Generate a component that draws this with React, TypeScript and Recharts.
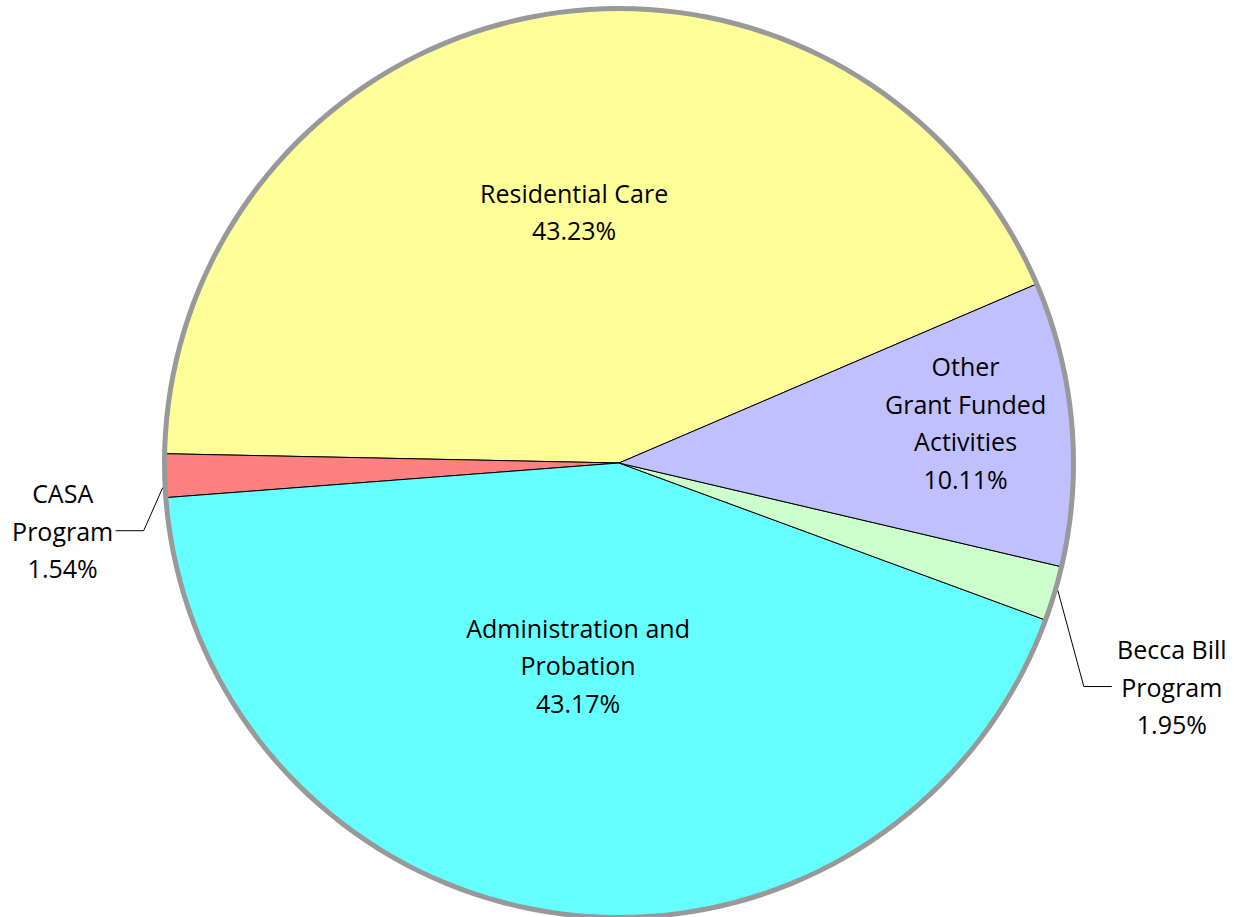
import { PieChart, Pie, Cell } from 'recharts'

const NAMES = [
  'Residential Care',
  'CASA Program',
  'Administration and Probation',
  'Becca Bill Program',
  'Other Grant Funded Activities',
]
const VALUES = [43.23, 1.54, 43.17, 1.95, 10.11]
const LABEL_LINES: string[][] = [
  ['Residential Care'],
  ['CASA', 'Program'],
  ['Administration and', 'Probation'],
  ['Becca Bill', 'Program'],
  ['Other', 'Grant Funded', 'Activities'],
]
const COLORS = ['#FFFF99', '#FF8080', '#66FFFF', '#CCFFCC', '#C0C0FF']

const data = NAMES.map((name, i) => ({ name, value: VALUES[i], lines: LABEL_LINES[i] }))
const ring = [{ name: 'ring', value: 1 }]

// label placement: inside = radius fraction + angle nudge, outside = leader offsets
const INSIDE: Record<string, { r: number; da: number }> = {
  'Residential Care': { r: 0.562, da: -0.9 },
  'Administration and Probation': { r: 0.454, da: -3.5 },
  'Other Grant Funded Activities': { r: 0.767, da: 1.7 },
}
const OUTSIDE: Record<string, { sa: number; ex: number; ey: number; hx: number; tx: number }> = {
  'CASA Program': { sa: 1.5, ex: -19, ey: 43, hx: -28, tx: -53 },
  'Becca Bill Program': { sa: 0.5, ex: 26, ey: 96, hx: 28, tx: 60 },
}

const RAD = Math.PI / 180
const FONT = '"Open Sans", Lato, sans-serif'
const FS = 25
const LH = 37.5

function polar(cx: number, cy: number, r: number, a: number) {
  return { x: cx + r * Math.cos(-a * RAD), y: cy + r * Math.sin(-a * RAD) }
}

function TextBlock({ x, y, lines }: { x: number; y: number; lines: string[] }) {
  const n = lines.length
  return (
    <text x={x} y={y} textAnchor="middle" fill="#000" fontFamily={FONT} fontSize={FS}>
      {lines.map((l, i) => (
        <tspan key={i} x={x} y={y + (i - (n - 1) / 2) * LH} dominantBaseline="central">
          {l}
        </tspan>
      ))}
    </text>
  )
}

const renderLabel = (props: any) => {
  const { cx, cy, midAngle, outerRadius, payload, value } = props
  const name = payload?.name ?? props.name
  const lines = [...(payload?.lines ?? [name]), `${Number(value).toFixed(2)}%`]
  const inside = INSIDE[name]
  if (inside) {
    const p = polar(cx, cy, outerRadius * inside.r, midAngle + inside.da)
    return <TextBlock x={p.x} y={p.y} lines={lines} />
  }
  const o = OUTSIDE[name]
  const s = polar(cx, cy, outerRadius + 2, midAngle + o.sa)
  const e = { x: s.x + o.ex, y: s.y + o.ey }
  const h = { x: e.x + o.hx, y: e.y }
  return (
    <g>
      <path d={`M${s.x},${s.y}L${e.x},${e.y}L${h.x},${h.y}`} stroke="#000" strokeWidth={1} fill="none" />
      <TextBlock x={h.x + o.tx} y={e.y} lines={lines} />
    </g>
  )
}

export default function App() {
  return (
    <div style={{ position: 'absolute', left: 0, top: 0, width: 1234, height: 917, background: '#fff' }}>
      <PieChart width={1234} height={917} margin={{ top: 0, right: 0, bottom: 0, left: 0 }}>
        <Pie
          data={data}
          dataKey="value"
          nameKey="name"
          cx={619}
          cy={463}
          outerRadius={455}
          startAngle={23.2}
          endAngle={383.2}
          stroke="#000"
          strokeWidth={1}
          label={renderLabel}
          labelLine={false}
          isAnimationActive={false}
        >
          {data.map((d, i) => (
            <Cell key={d.name} fill={COLORS[i]} />
          ))}
        </Pie>
        <Pie
          data={ring}
          dataKey="value"
          cx={619}
          cy={463}
          innerRadius={452}
          outerRadius={457}
          startAngle={0}
          endAngle={360}
          fill="#999"
          stroke="none"
          isAnimationActive={false}
        />
      </PieChart>
    </div>
  )
}
